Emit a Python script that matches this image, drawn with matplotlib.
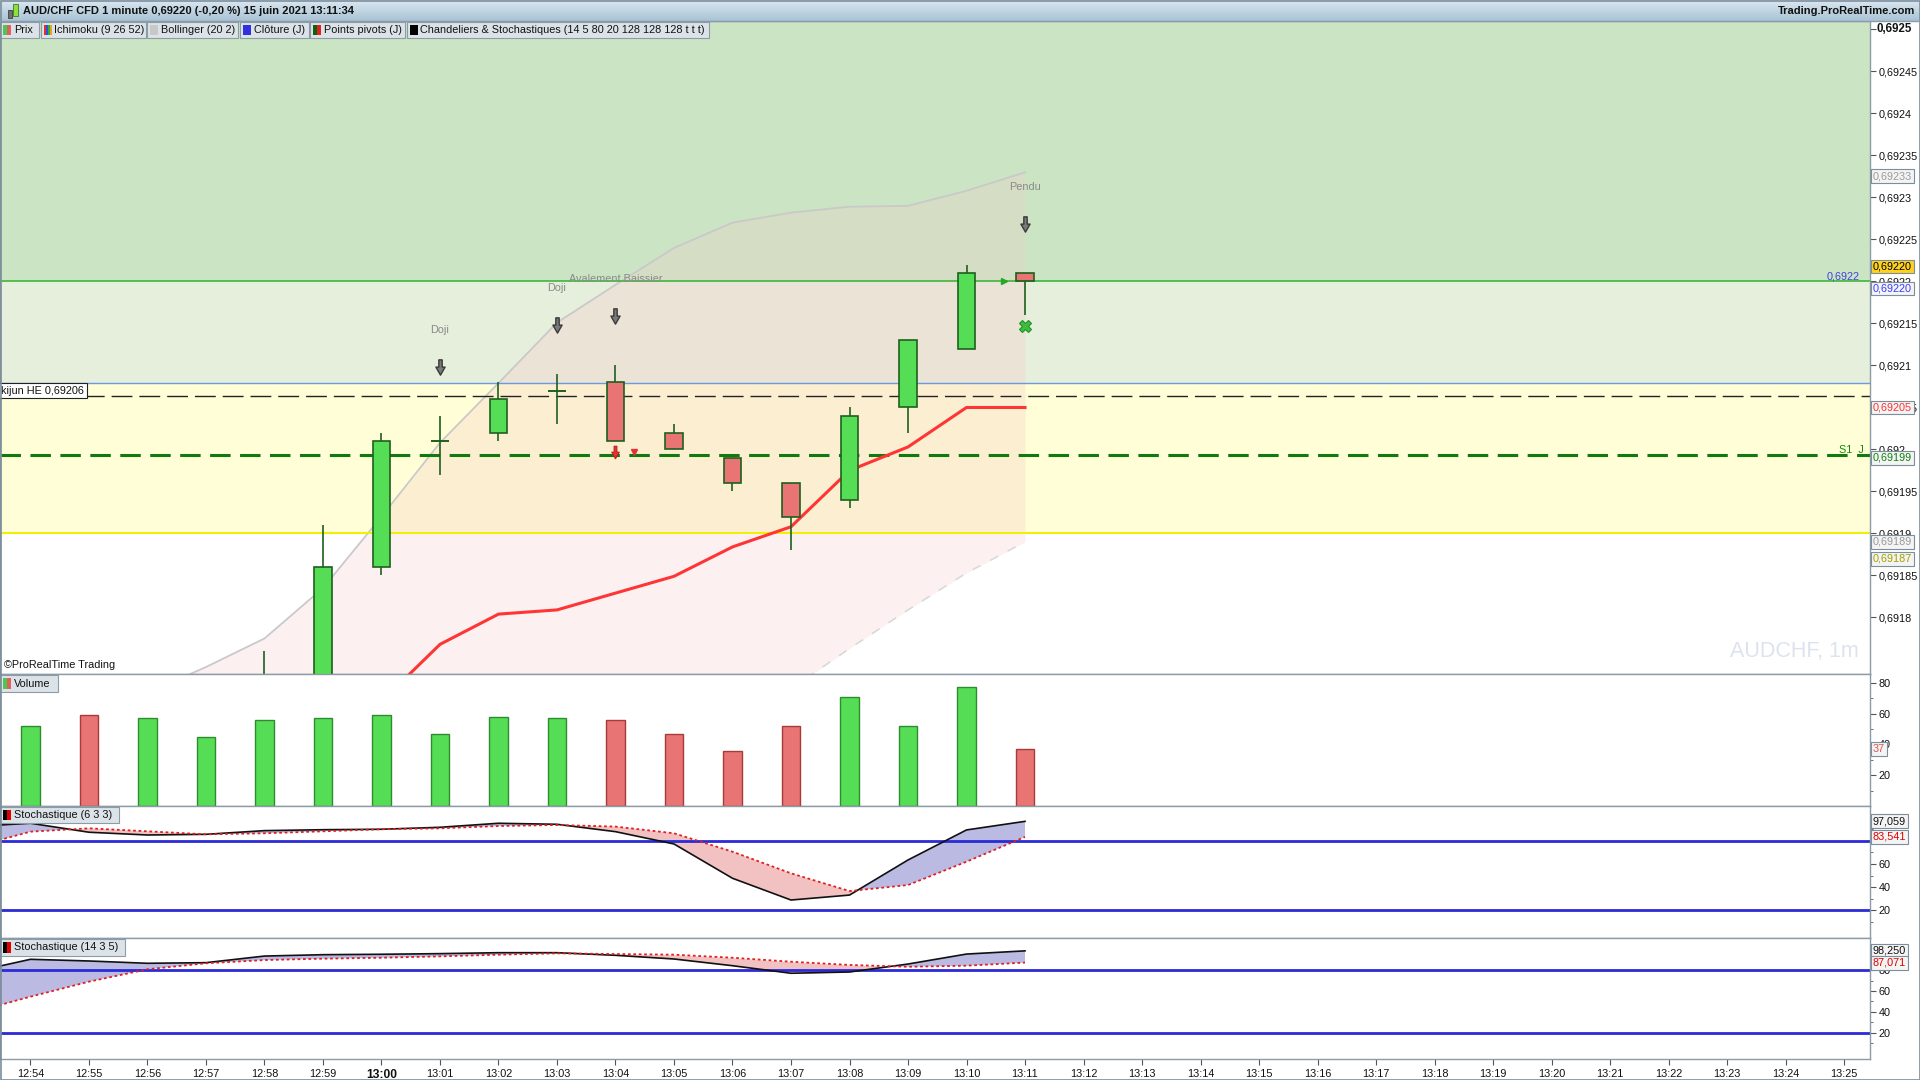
import numpy as np
import matplotlib
matplotlib.use('Agg')
import matplotlib.pyplot as plt
from matplotlib.patches import Rectangle
from matplotlib.path import Path
from matplotlib.transforms import offset_copy
from matplotlib.colors import LinearSegmentedColormap
from matplotlib.ticker import FixedLocator, FuncFormatter

plt.rcParams['font.family'] = ['Liberation Sans', 'DejaVu Sans']

# x axis minutes (index 0 = 12:54)
time_labels = ['12:54', '12:55', '12:56', '12:57', '12:58', '12:59', '13:00',
               '13:01', '13:02', '13:03', '13:04', '13:05', '13:06', '13:07',
               '13:08', '13:09', '13:10', '13:11', '13:12', '13:13', '13:14',
               '13:15', '13:16', '13:17', '13:18', '13:19', '13:20', '13:21',
               '13:22', '13:23', '13:24', '13:25']

# 1 minute candles 12:54 -> 13:11
opens = [0.69150, 0.69154, 0.69150, 0.69158, 0.69164, 0.69171, 0.69186, 0.69201, 0.69202,
         0.69207, 0.69208, 0.69202, 0.69199, 0.69196, 0.69194, 0.69205, 0.69212, 0.69221]
highs = [0.69156, 0.69157, 0.69160, 0.69166, 0.69176, 0.69191, 0.69202, 0.69204, 0.69208,
         0.69209, 0.69210, 0.69203, 0.69199, 0.69196, 0.69205, 0.69213, 0.69222, 0.69221]
lows = [0.69146, 0.69148, 0.69149, 0.69156, 0.69162, 0.69169, 0.69185, 0.69197, 0.69201,
        0.69203, 0.69201, 0.69200, 0.69195, 0.69188, 0.69193, 0.69202, 0.69212, 0.69216]
closes = [0.69154, 0.69150, 0.69158, 0.69164, 0.69171, 0.69186, 0.69201, 0.69201, 0.69206,
          0.69207, 0.69201, 0.69200, 0.69196, 0.69192, 0.69204, 0.69213, 0.69221, 0.69220]
volumes = [52, 59, 57, 45, 56, 57, 59, 47, 58, 57, 56, 47, 36, 52, 71, 52, 77, 37]

# red ichimoku line, from 13:00
tenkan_start = 6
tenkan = [0.69170, 0.691768, 0.691804, 0.691809, 0.691829, 0.691849,
          0.691884, 0.691908, 0.691975, 0.692003, 0.69205, 0.69205]

# bollinger bands, from 12:56
boll_start = 2
boll_up = [0.69171, 0.691741, 0.691775, 0.691835, 0.69192, 0.692008, 0.692079, 0.692151,
           0.692196, 0.69224, 0.69227, 0.692282, 0.692289, 0.69229, 0.692308, 0.69233]
boll_dn = [0.69140, 0.69135, 0.69128, 0.69122, 0.69118, 0.69118, 0.69122, 0.69130,
           0.69142, 0.69152, 0.69162, 0.691715, 0.691763, 0.691809, 0.691853, 0.69189]

# horizontal levels
close_j = 0.6922
cloud_mid = 0.692079
cloud_low = 0.6919
kijun_he = 0.692064
s1_j = 0.691993

# candle pattern signals
signal_idx = [7, 9, 10, 17]
signal_names = ['Doji', 'Doji', 'Avalement Baissier', 'Pendu']

# stochastics, from 12:53
stoch_start = -1
s1_k = [92.5, 95.4, 87.6, 85.2, 85.8, 89.0, 89.8, 90.2, 91.9, 95.4,
        94.5, 88.1, 77.4, 47.6, 28.7, 33.0, 63.5, 89.6, 97.059]
s1_d = [74.4, 88.1, 91.0, 88.4, 85.8, 86.7, 88.4, 90.2, 91.0, 93.0,
        93.9, 92.5, 86.7, 70.7, 51.9, 36.5, 41.7, 62.0, 83.541]
s2_k = [77.9, 90.2, 88.6, 86.4, 87.0, 93.3, 94.6, 95.0, 95.6, 96.5,
        96.5, 94.0, 90.5, 84.1, 76.9, 78.1, 85.7, 95.2, 98.25]
s2_d = [39.4, 54.6, 68.9, 80.7, 86.4, 89.5, 90.8, 91.7, 93.0, 94.6,
        95.9, 95.2, 94.6, 91.7, 87.9, 84.8, 83.1, 84.1, 87.071]

W, H = 1920, 1080
FS = 7.8
fig = plt.figure(figsize=(19.2, 10.8), dpi=100)
fig.patch.set_facecolor('white')


def panel(top, bottom, left=0, right=1870):
    return fig.add_axes([left / W, 1 - bottom / H, (right - left) / W, (bottom - top) / H])


ax_p = panel(21, 674)
ax_v = panel(674, 806)
ax_s1 = panel(806, 938)
ax_s2 = panel(938, 1059)
axes = [ax_p, ax_v, ax_s1, ax_s2]

spine_col = '#8d9ba6'
for ax in axes:
    ax.set_xlim(-0.521, 31.444)
    for s in ax.spines.values():
        s.set_color(spine_col)
        s.set_linewidth(1)
    ax.yaxis.tick_right()
    ax.tick_params(axis='y', which='both', direction='out', colors='#555555',
                   labelcolor='#111111', labelsize=FS, pad=2)
    ax.tick_params(axis='y', which='major', length=4)
    ax.tick_params(axis='y', which='minor', length=2.5)
    ax.tick_params(axis='x', bottom=False, labelbottom=False)

# ---------------- price panel ----------------
ax_p.set_ylim(0.6917327, 0.6925101)
ax_p.axhspan(close_j, 0.6930, color='#cbe5c4', lw=0, zorder=0)
ax_p.axhspan(cloud_mid, close_j, color='#e6eedc', lw=0, zorder=0)
ax_p.axhspan(cloud_low, cloud_mid, color='#fffed6', lw=0, zorder=0)

bx = np.arange(len(boll_up)) + boll_start
ax_p.fill_between(bx, boll_dn, boll_up, color='#f6c6c6', alpha=0.25, lw=0, zorder=1)
ax_p.plot(bx, boll_up, color='#c9c9c9', lw=1.3, zorder=2)
ax_p.plot(bx, boll_dn, color='#d8d8d8', lw=1.1, dashes=(6, 7), zorder=2)

ax_p.axhline(close_j, color='#3cb83c', lw=1.2, zorder=2)
ax_p.axhline(cloud_mid, color='#6a9ae0', lw=1, zorder=2)
ax_p.axhline(cloud_low, color='#f0f000', lw=1.4, zorder=2)
ax_p.axhline(kijun_he, color='#222222', lw=1, dashes=(15, 5), zorder=2)
ax_p.axhline(s1_j, color='#107a10', lw=2.2, dashes=(6.7, 3.1), zorder=2)

tx = np.arange(len(tenkan)) + tenkan_start
ax_p.plot(tx, tenkan, color='#ff3535', lw=2.2, zorder=3)

x = np.arange(len(opens))
o, h, l, c = (np.array(v) for v in (opens, highs, lows, closes))
up = c >= o
body_col = np.where(up, '#55dd55', '#e87474')
ax_p.vlines(x, l, h, color='#1e5f1e', lw=1.2, zorder=4)
ax_p.bar(x, c - o, bottom=o, width=0.3, color=body_col, edgecolor='#1e5f1e', lw=1.2, zorder=5)
doji = np.abs(c - o) < 1e-7
ax_p.hlines(o[doji], x[doji] - 0.16, x[doji] + 0.16, color='#1e5f1e', lw=1.2, zorder=5)

# signals
arrow_path = Path([(-0.22, 1.0), (0.22, 1.0), (0.22, 0.05), (0.6, 0.05), (0.0, -1.0),
                   (-0.6, 0.05), (-0.22, 0.05), (-0.22, 1.0)], closed=True)
arrow_tr = offset_copy(ax_p.transData, fig=fig, x=0, y=49, units='dots')
label_tr = offset_copy(ax_p.transData, fig=fig, x=0, y=86, units='dots')
below_tr = offset_copy(ax_p.transData, fig=fig, x=0, y=-11, units='dots')
for i, name in zip(signal_idx, signal_names):
    ax_p.plot(i, highs[i], marker=arrow_path, ms=11, mfc='#7a7a7a', mec='#3a3a3a', mew=1,
              transform=arrow_tr, zorder=6)
    ax_p.text(i, highs[i], name, transform=label_tr, ha='center', va='center',
              color='#8a8a8a', fontsize=FS, zorder=6)
ax_p.plot(10, lows[10], marker=arrow_path, ms=9, mfc='#e03535', mec='#c02020', mew=0.8,
          transform=below_tr, zorder=6)
ax_p.plot(10.32, lows[10], marker='v', ms=4, color='#e03535', transform=below_tr, zorder=6)
ax_p.plot(17, lows[17], marker='X', ms=8, mfc='#3cc03c', mec='#22902a', mew=0.8,
          transform=below_tr, zorder=6)
ax_p.plot(16.64, close_j, marker='>', ms=5, color='#22aa22', zorder=6)

# price axis ticks
p_ticks = np.round(np.arange(0.6918, 0.692501, 0.00005), 5)
ax_p.yaxis.set_major_locator(FixedLocator(p_ticks))


def price_fmt(v, pos):
    if abs(v - 0.6925) < 1e-9:
        return ''
    return f'{v:.5f}'.rstrip('0').replace('.', ',')


ax_p.yaxis.set_major_formatter(FuncFormatter(price_fmt))
ax_p.text(1.0036, 0.6925, '0,6925', transform=ax_p.get_yaxis_transform(), ha='left',
          va='center', fontsize=8.3, weight='bold', color='#111111')

ax_p.text(0.9942, close_j, '0,6922', transform=ax_p.get_yaxis_transform(), ha='right',
          va='bottom', fontsize=FS, color='#4040e0', zorder=6)
ax_p.text(0.9966, s1_j, 'S1  J', transform=ax_p.get_yaxis_transform(), ha='right',
          va='bottom', fontsize=FS, color='#108a10', zorder=6)
ax_p.text(0.0006, kijun_he, 'kijun HE 0,69206', transform=ax_p.get_yaxis_transform(),
          ha='left', va='bottom', fontsize=FS, color='#111111', zorder=7,
          bbox=dict(boxstyle='square,pad=0.25', fc='white', ec='#222222', lw=0.8))
ax_p.text(0.994, 0.035, 'AUDCHF, 1m', transform=ax_p.transAxes, ha='right', va='center',
          fontsize=15.5, color='#dde3ee', zorder=1)
ax_p.text(0.002, 0.006, '\u00a9ProRealTime Trading', transform=ax_p.transAxes, ha='left',
          va='bottom', fontsize=FS, color='#111111', zorder=6)


def value_box(ax, val, text, tcol, fcol, dy=0):
    tr = offset_copy(ax.get_yaxis_transform(), fig=fig, x=0, y=-dy, units='dots')
    ax.text(1.0016, val, text, transform=tr, ha='left', va='center', fontsize=FS,
            color=tcol, zorder=8,
            bbox=dict(boxstyle='square,pad=0.18', fc=fcol, ec='#7d8e9b', lw=0.8))


value_box(ax_p, 0.69233, '0,69233', '#9a9a9a', '#f4f4f4', 4)
value_box(ax_p, 0.69220, '0,69220', '#000000', '#ffd21f', -15)
value_box(ax_p, 0.69220, '0,69220', '#3c3cff', '#f4f4f4', 7)
value_box(ax_p, 0.69205, '0,69205', '#ff3030', '#f4f4f4')
value_box(ax_p, 0.69199, '0,69199', '#108010', '#f4f4f4')
value_box(ax_p, 0.69189, '0,69189', '#9a9a9a', '#f4f4f4')
value_box(ax_p, 0.69187, '0,69187', '#a0a000', '#f4f4f4')

# ---------------- volume panel ----------------
ax_v.set_ylim(0, 85.7)
ax_v.bar(x, volumes, width=0.31, color=body_col,
         edgecolor=np.where(up, '#2e8b2e', '#a83a3a'), lw=1, zorder=3)
ax_v.set_yticks([20, 40, 60, 80])
ax_v.set_yticks([10, 30, 50, 70], minor=True)
value_box(ax_v, volumes[-1], '37', '#e05050', '#f4f4f4')

# ---------------- stochastics ----------------
sx = np.arange(len(s1_k)) + stoch_start
for ax, k, d, lims, lab_k, lab_d in [
        (ax_s1, s1_k, s1_d, (-4.3, 110.4), '97,059', '83,541'),
        (ax_s2, s2_k, s2_d, (-4.8, 110.5), '98,250', '87,071')]:
    k = np.array(k)
    d = np.array(d)
    ax.set_ylim(*lims)
    ax.fill_between(sx, k, d, where=k >= d, interpolate=True, color='#babae2', lw=0, zorder=1)
    ax.fill_between(sx, k, d, where=k <= d, interpolate=True, color='#f2c2c2', lw=0, zorder=1)
    ax.plot(sx, k, color='#111111', lw=1.2, zorder=3)
    ax.plot(sx, d, color='#e02020', lw=1.3, ls=(0, (1.5, 1.5)), zorder=3)
    ax.axhline(80, color='#2a2ad6', lw=2, zorder=2)
    ax.axhline(20, color='#2a2ad6', lw=2, zorder=2)
    ax.set_yticks([20, 40, 60, 80, 100])
    ax.set_yticks([10, 30, 50, 70, 90], minor=True)
    value_box(ax, k[-1], lab_k, '#111111', '#f4f4f4')
    value_box(ax, d[-1], lab_d, '#e00000', '#f4f4f4')

ax_s2.set_xticks(np.arange(len(time_labels)))
ax_s2.set_xticklabels(time_labels)
ax_s2.tick_params(axis='x', bottom=True, labelbottom=True, direction='out', length=4,
                  colors='#555555', labelcolor='#111111', labelsize=FS, pad=3)
for t in ax_s2.get_xticklabels():
    if t.get_text() == '13:00':
        t.set_fontweight('bold')
        t.set_fontsize(8.7)

# ---------------- header, legends, frame (pixel overlay) ----------------
ov = fig.add_axes([0, 0, 1, 1], zorder=10)
ov.patch.set_alpha(0)
grad = LinearSegmentedColormap.from_list('hdr', ['#dae7f0', '#a9c3d5'])
ov.imshow(np.linspace(0, 1, 30)[:, None], cmap=grad, aspect='auto', extent=(0, W, 21, 0))
ov.set_xlim(0, W)
ov.set_ylim(H, 0)
ov.axis('off')
ov.plot([0, W], [21, 21], color='#8a9cab', lw=1)
ov.add_patch(Rectangle((8, 10), 4, 8, fc='#707070', ec='#404040', lw=0.6))
ov.add_patch(Rectangle((13, 4), 5, 12, fc='#8fe03c', ec='#3a7a20', lw=0.6))
ov.text(23, 11, 'AUD/CHF CFD 1 minute 0,69220 (-0,20 %) 15 juin 2021 13:11:34',
        fontsize=8, weight='bold', va='center', ha='left', color='#111111')
ov.text(1915, 11, 'Trading.ProRealTime.com', fontsize=8, weight='bold', va='center',
        ha='right', color='#111111')


def label_box(x0, x1, y0, y1, text, swatch):
    ov.add_patch(Rectangle((x0, y0), x1 - x0, y1 - y0, fc='#dbe3e8', ec='#8d9ba6', lw=0.8))
    n = len(swatch)
    sw = 8.0 / n
    for j, col in enumerate(swatch):
        ov.add_patch(Rectangle((x0 + 3 + j * sw, y0 + 3), sw, y1 - y0 - 6, fc=col, lw=0))
    ov.text(x0 + 14, (y0 + y1) / 2 + 0.5, text, fontsize=FS, va='center', ha='left',
            color='#111111')


label_box(0, 39, 22, 37.5, 'Prix', ['#4cc84c', '#e06060'])
label_box(40.5, 146, 22, 37.5, 'Ichimoku (9 26 52)', ['#e03030', '#3050e0', '#30b030', '#f0a020'])
label_box(147, 238, 22, 37.5, 'Bollinger (20 2)', ['#c8c8c8'])
label_box(239.5, 309, 22, 37.5, 'Cl\u00f4ture (J)', ['#3030e0'])
label_box(310, 405, 22, 37.5, 'Points pivots (J)', ['#106010', '#e02020'])
label_box(406.5, 709, 22, 37.5,
          'Chandeliers & Stochastiques (14 5 80 20 128 128 128 t t t)', ['#000000'])
label_box(0, 57.5, 675, 691.5, 'Volume', ['#4cc84c', '#e06060'])
label_box(0, 119, 806.5, 823, 'Stochastique (6 3 3)', ['#000000', '#e00000'])
label_box(0, 125, 938.5, 955.5, 'Stochastique (14 3 5)', ['#000000', '#e00000'])

ov.add_patch(Rectangle((0.5, 0.5), W - 1, H - 1, fill=False, ec='#7d8e9b', lw=1.2))

fig.savefig('out.png', dpi=100)
